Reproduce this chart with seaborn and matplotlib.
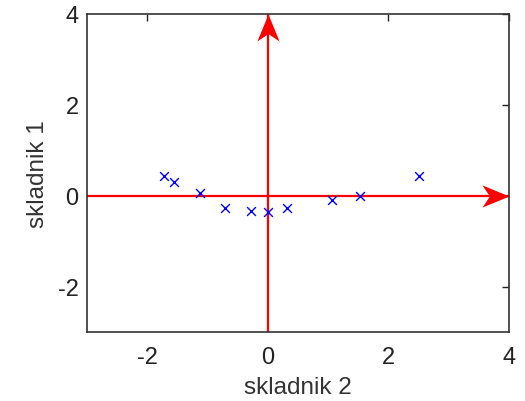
import matplotlib
matplotlib.use("Agg")
import matplotlib.pyplot as plt
from matplotlib.path import Path
import seaborn as sns
import pandas as pd

# principal component scores
skladnik_2 = [-1.72, -1.56, -1.13, -0.71, -0.28, 0.00, 0.31, 1.06, 1.53, 2.50]
skladnik_1 = [0.43, 0.30, 0.05, -0.26, -0.34, -0.35, -0.26, -0.09, 0.00, 0.43]

x_ticks = [-2, 0, 2, 4]
y_ticks = [-2, 0, 2, 4]
x_lim = (-3, 4)
y_lim = (-3, 4)

sns.set_style("white")
plt.rcParams["font.family"] = ["Liberation Sans", "DejaVu Sans"]
plt.rcParams["axes.unicode_minus"] = False

fig = plt.figure(figsize=(5.25, 4.02), dpi=100)
ax = fig.add_axes([0.1657, 0.1716, 0.8038, 0.7911])

df = pd.DataFrame({"skladnik 2": skladnik_2, "skladnik 1": skladnik_1})

# notched arrowheads (tip sits on the marker's anchor point)
head_up = Path([(0, 0), (-0.41, -1), (0, -0.72), (0.41, -1), (0, 0)],
               [Path.MOVETO, Path.LINETO, Path.LINETO, Path.LINETO, Path.CLOSEPOLY])
head_right = Path([(0, 0), (-1, 0.41), (-0.72, 0), (-1, -0.41), (0, 0)],
                  [Path.MOVETO, Path.LINETO, Path.LINETO, Path.LINETO, Path.CLOSEPOLY])

# coordinate axes drawn as red arrows spanning the plot range
ax.plot(list(x_lim), [0, 0], color="red", lw=1.6, zorder=1, solid_capstyle="butt")
ax.plot([0, 0], list(y_lim), color="red", lw=1.6, zorder=1, solid_capstyle="butt")
ax.plot([x_lim[1]], [0], marker=head_right, markersize=39, color="red",
        markeredgewidth=0, clip_on=False, zorder=2)
ax.plot([0], [y_lim[1]], marker=head_up, markersize=39, color="red",
        markeredgewidth=0, clip_on=False, zorder=2)

sns.scatterplot(data=df, x="skladnik 2", y="skladnik 1", marker="x", color="blue",
                s=40, linewidth=1.0, ax=ax, zorder=3)

ax.set_xlim(*x_lim)
ax.set_ylim(*y_lim)
ax.set_xticks(x_ticks)
ax.set_yticks(y_ticks)
ax.tick_params(direction="in", length=5, width=1, top=True, right=True,
               labelsize=17, colors="#222222")
ax.tick_params(axis="x", pad=10)
ax.tick_params(axis="y", pad=6)
for sp in ax.spines.values():
    sp.set_linewidth(1.2)
    sp.set_color("#333333")
    sp.set_zorder(4)
ax.set_xlabel("skladnik 2", fontsize=17.5, color="#333333", labelpad=6)
ax.set_ylabel("skladnik 1", fontsize=17.5, color="#333333", labelpad=6)

fig.savefig("out.png", dpi=100)
